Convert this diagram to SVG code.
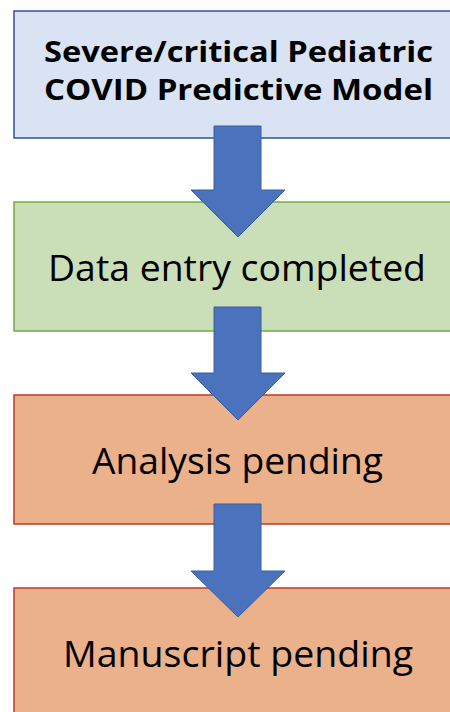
<svg xmlns="http://www.w3.org/2000/svg" width="450" height="712" viewBox="0 0 450 712">
<style>
.t{font-family:"Open Sans","Liberation Sans",sans-serif;fill:#000;text-anchor:middle}
.b{font-weight:bold;font-size:28px}
.n{font-size:37px}
.arrow{fill:#4a72bd;stroke:#3a5f9f;stroke-width:1}
</style>
<rect width="450" height="712" fill="#fff"/>
<g id="node-model">
<rect x="14" y="11" width="460" height="127" fill="#dae3f3" stroke="#2f5597" stroke-width="1.5"/>
<text class="t b" x="238.5" y="62" textLength="389" lengthAdjust="spacingAndGlyphs">Severe/critical Pediatric</text>
<text class="t b" x="238.5" y="100" textLength="389" lengthAdjust="spacingAndGlyphs">COVID Predictive Model</text>
</g>
<g id="node-data">
<rect x="14" y="202" width="460" height="129" fill="#cadfb7" stroke="#70ad47" stroke-width="1.5"/>
<text class="t n" x="237" y="281" textLength="378" lengthAdjust="spacingAndGlyphs">Data entry completed</text>
</g>
<g id="node-analysis">
<rect x="14" y="395" width="460" height="129" fill="#ebb18a" stroke="#c0392b" stroke-width="1.5"/>
<text class="t n" x="237.5" y="474" textLength="291" lengthAdjust="spacingAndGlyphs">Analysis pending</text>
</g>
<g id="node-manuscript">
<rect x="14" y="588" width="460" height="140" fill="#ebb18a" stroke="#c0392b" stroke-width="1.5"/>
<text class="t n" x="238" y="667" textLength="350" lengthAdjust="spacingAndGlyphs">Manuscript pending</text>
</g>
<g id="connectors">
<polygon class="arrow" points="214,126 261,126 261,190 285,190 238,237 191,190 214,190"/>
<polygon class="arrow" points="214,307 261,307 261,373 285,373 238,420 191,373 214,373"/>
<polygon class="arrow" points="214,504 261,504 261,571 285,571 238,617 191,571 214,571"/>
</g>
</svg>
